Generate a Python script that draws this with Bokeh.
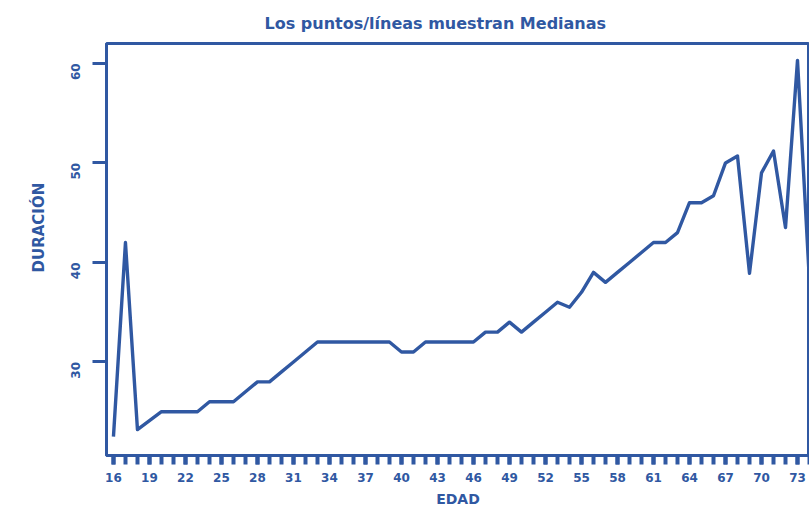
import math
from bokeh.plotting import figure
from bokeh.models import FixedTicker, Range1d, Title
from bokeh.embed import file_html
from bokeh.resources import INLINE

# ---- data ----
ages = list(range(16, 75))
medians = [22.5, 42, 23.2, 24.1, 25, 25, 25, 25, 26, 26,
           26, 27, 28, 28, 29, 30, 31, 32, 32, 32,
           32, 32, 32, 32, 31, 31, 32, 32, 32, 32,
           32, 33, 33, 34, 33, 34, 35, 36, 35.5, 37,
           39, 38, 39, 40, 41, 42, 42, 43, 46, 46,
           46.7, 50, 50.7, 38.9, 49, 51.2, 43.5, 60.3, 38]
x_ticks = list(range(16, 74, 3))
y_ticks = [30, 40, 50, 60]
title_text = "Los puntos/líneas muestran Medianas"
x_label = "EDAD"
y_label = "DURACIÓN"

BLUE = "#3058a2"
FONT = "DejaVu Sans"

p = figure(width=809, height=510, output_backend="svg", toolbar_location=None,
           x_range=Range1d(15.42, 74.0), y_range=Range1d(20.6, 62.0),
           min_border_left=106, min_border_top=43, min_border_right=0,
           min_border_bottom=55)
p.background_fill_color = "white"
p.border_fill_color = "white"
p.outline_line_color = BLUE
p.outline_line_width = 3
p.grid.visible = False

p.line(ages, medians, line_color=BLUE, line_width=3.4, line_join="round")

t = Title(text=title_text, align="left", offset=158, text_font=FONT,
          text_font_size="16px", text_font_style="bold", text_color=BLUE, standoff=22)
p.add_layout(t, "above")

yl = Title(text=y_label, align="left", offset=183, text_font=FONT,
           text_font_size="15px", text_font_style="bold", text_color=BLUE, standoff=32)
p.add_layout(yl, "left")

xa = p.xaxis[0]
xa.ticker = FixedTicker(ticks=x_ticks, minor_ticks=ages)
xa.axis_line_color = BLUE
xa.axis_line_width = 3
xa.major_tick_line_color = BLUE
xa.minor_tick_line_color = BLUE
xa.major_tick_line_width = 4
xa.minor_tick_line_width = 4
xa.major_tick_in = 0
xa.minor_tick_in = 0
xa.major_tick_out = 9
xa.minor_tick_out = 9
xa.major_label_text_color = BLUE
xa.major_label_text_font = FONT
xa.major_label_text_font_size = "12px"
xa.major_label_text_font_style = "bold"
xa.major_label_standoff = 8
xa.axis_label = x_label
xa.axis_label_text_color = BLUE
xa.axis_label_text_font = FONT
xa.axis_label_text_font_size = "14px"
xa.axis_label_text_font_style = "bold"
xa.axis_label_standoff = 6

ya = p.yaxis[0]
ya.ticker = FixedTicker(ticks=y_ticks, minor_ticks=[])
ya.axis_line_color = BLUE
ya.axis_line_width = 3
ya.major_tick_line_color = BLUE
ya.major_tick_line_width = 3
ya.major_tick_in = 0
ya.major_tick_out = 14
ya.minor_tick_line_color = None
ya.major_label_orientation = math.pi / 2
ya.major_label_text_color = BLUE
ya.major_label_text_font = FONT
ya.major_label_text_font_size = "12px"
ya.major_label_text_font_style = "bold"
ya.major_label_standoff = 17

open("out.html", "w").write(file_html(p, INLINE))
